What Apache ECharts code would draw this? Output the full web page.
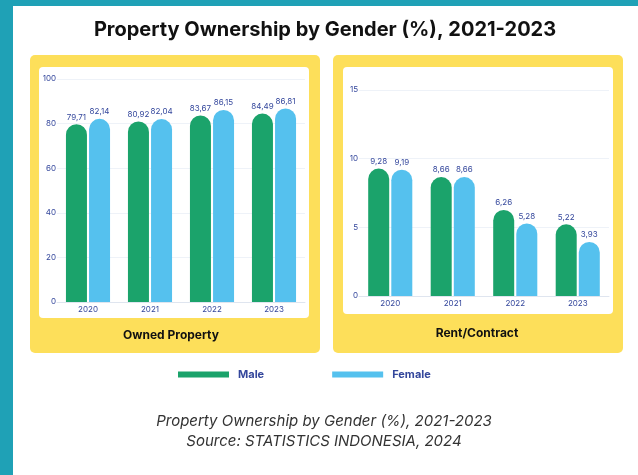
<!DOCTYPE html>
<html>
<head>
<meta charset="utf-8">
<script src="https://cdn.jsdelivr.net/npm/echarts@6/dist/echarts.min.js"></script>
<style>
  html, body { margin: 0; padding: 0; background: #ffffff; }
  #chart { width: 638px; height: 475px; }
</style>
</head>
<body>
<div id="chart"></div>
<script>
const years = ["2020", "2021", "2022", "2023"];
const ownedMale = [79.71, 80.92, 83.67, 84.49];
const ownedFemale = [82.14, 82.04, 86.15, 86.81];
const rentMale = [9.28, 8.66, 6.26, 5.22];
const rentFemale = [9.19, 8.66, 5.28, 3.93];

const GREEN = "#1ba36b";
const BLUE = "#55c1ee";
const LABEL = "#34479c";
const FONT = "Inter, 'Noto Sans', sans-serif";

const chart = echarts.init(document.getElementById("chart"), null, { renderer: "canvas" });

const fmt = (p) => p.value.toFixed(2).replace(".", ",");

function xAxisFor(gridIndex) {
  return {
    type: "category",
    gridIndex,
    data: years,
    axisTick: { show: false },
    axisLine: { lineStyle: { color: "#dfe5ef" } },
    axisLabel: { color: LABEL, fontSize: 8, fontFamily: FONT, margin: 4 },
  };
}

function yAxisFor(gridIndex, max, interval) {
  return {
    type: "value",
    gridIndex,
    min: 0,
    max,
    interval,
    axisLabel: { color: LABEL, fontSize: 8, fontFamily: FONT, margin: 1 },
    splitLine: { lineStyle: { color: "#eef2f8" } },
  };
}

function barSeries(name, color, values, axisIndex) {
  return {
    name,
    type: "bar",
    xAxisIndex: axisIndex,
    yAxisIndex: axisIndex,
    data: values,
    barWidth: 21,
    barGap: "10%",
    itemStyle: { color, borderRadius: [11, 11, 0, 0] },
    label: {
      show: true,
      position: "top",
      distance: 3,
      color: LABEL,
      fontSize: 8,
      fontFamily: FONT,
      formatter: fmt,
    },
  };
}

function text(x, y, str, style) {
  return {
    type: "text",
    x,
    y,
    z: 10,
    style: Object.assign({ text: str, textAlign: "center", textVerticalAlign: "middle", fontFamily: FONT }, style),
  };
}

chart.setOption({
  animation: false,
  backgroundColor: "#ffffff",
  graphic: [
    { type: "rect", z: -10, shape: { x: 0, y: 0, width: 638, height: 6 }, style: { fill: "#1fa1b6" } },
    { type: "rect", z: -10, shape: { x: 0, y: 0, width: 13, height: 475 }, style: { fill: "#1fa1b6" } },
    { type: "rect", z: -10, shape: { x: 30, y: 55, width: 290, height: 298, r: 5 }, style: { fill: "#fddf5a" } },
    { type: "rect", z: -9, shape: { x: 39, y: 67, width: 270, height: 251, r: 4 }, style: { fill: "#ffffff" } },
    { type: "rect", z: -10, shape: { x: 333, y: 55, width: 290, height: 298, r: 5 }, style: { fill: "#fddf5a" } },
    { type: "rect", z: -9, shape: { x: 343, y: 67, width: 270, height: 247, r: 4 }, style: { fill: "#ffffff" } },
    text(325, 30, "Property Ownership by Gender (%), 2021-2023", { fontSize: 20, fontWeight: "bold", fill: "#111111" }),
    text(171, 335, "Owned Property", { fontSize: 12, fontWeight: "bold", fill: "#111111" }),
    text(477, 333, "Rent/Contract", { fontSize: 12, fontWeight: "bold", fill: "#111111" }),
    text(324, 421, "Property Ownership by Gender (%), 2021-2023", { fontSize: 15, fontStyle: "italic", fill: "#333333" }),
    text(324, 441, "Source: STATISTICS INDONESIA, 2024", { fontSize: 15, fontStyle: "italic", fill: "#333333" }),
  ],
  legend: {
    data: ["Male", "Female"],
    left: 178,
    top: 369,
    padding: 0,
    icon: "rect",
    itemWidth: 51,
    itemHeight: 6,
    itemGap: 68,
    textStyle: { color: LABEL, fontSize: 11, fontWeight: "bold", fontFamily: FONT, padding: [0, 0, 0, 4] },
  },
  grid: [
    { left: 57, right: 333, top: 79, bottom: 173 },
    { left: 359, right: 29, top: 90, bottom: 179 },
  ],
  xAxis: [xAxisFor(0), xAxisFor(1)],
  yAxis: [yAxisFor(0, 100, 20), yAxisFor(1, 15, 5)],
  series: [
    barSeries("Male", GREEN, ownedMale, 0),
    barSeries("Female", BLUE, ownedFemale, 0),
    barSeries("Male", GREEN, rentMale, 1),
    barSeries("Female", BLUE, rentFemale, 1),
  ],
});
</script>
</body>
</html>
